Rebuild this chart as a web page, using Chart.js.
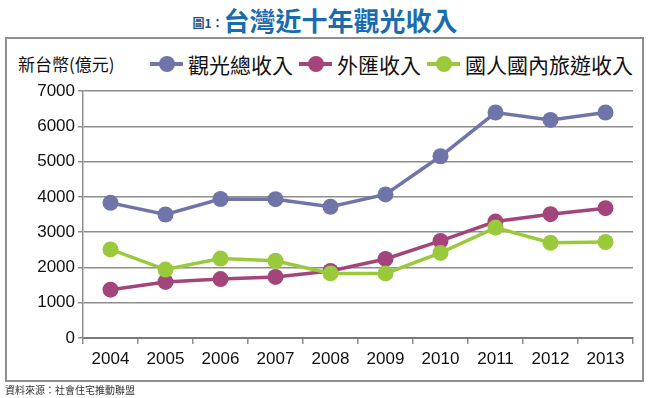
<!DOCTYPE html>
<html>
<head>
<meta charset="utf-8">
<script src="https://cdn.jsdelivr.net/npm/chart.js@4"></script>
<style>
    body { margin: 0; background: #fff; font-family: "Liberation Sans", Arial, sans-serif; }
    #wrap { position: relative; width: 650px; height: 398px; overflow: hidden; }
    #box { position: absolute; left: 5px; top: 37px; width: 635px; height: 341px; border: 2px solid #8e8e8e; }
    #title { position: absolute; left: 0; top: 4px; width: 650px; text-align: center; color: #1a6cb0;
        font-family: "Noto Sans CJK TC", sans-serif; font-weight: bold; font-size: 26px; line-height: 32px; }
    #title small { font-size: 12px; color: #1d4f86; vertical-align: 3px; }
    #unit { position: absolute; left: 18px; top: 51px; font-family: "Noto Sans CJK TC", sans-serif;
        font-size: 17px; color: #111; line-height: 26px; }
    #legend { position: absolute; left: 150px; top: 49px; font-family: "Noto Sans CJK TC", sans-serif;
        font-size: 21px; color: #111; line-height: 30px; white-space: nowrap; }
    .item { display: inline-block; margin-right: 6px; }
    .mark { display: inline-block; position: relative; width: 33px; height: 30px; vertical-align: top; margin-right: 5px; }
    .mark i { position: absolute; left: 0; top: 13px; width: 33px; height: 4px; }
    .mark b { position: absolute; left: 9px; top: 7px; width: 16px; height: 16px; border-radius: 50%; }
    #source { position: absolute; left: 5px; top: 383px; font-family: "Noto Sans CJK TC", sans-serif;
        font-size: 10px; color: #333; line-height: 14px; }
    canvas { position: absolute; left: 0; top: 0; }
</style>
</head>
<body>
<div id="wrap">
    <div id="box"></div>
    <div id="title"><small>圖1：</small>台灣近十年觀光收入</div>
    <div id="unit">新台幣(億元)</div>
    <div id="legend"></div>
    <canvas id="chart" width="650" height="398"></canvas>
    <div id="source">資料來源：社會住宅推動聯盟</div>
</div>
<script>
const years = ["2004", "2005", "2006", "2007", "2008", "2009", "2010", "2011", "2012", "2013"];
const seriesNames = ["觀光總收入", "外匯收入", "國人國內旅遊收入"];
const totalIncome = [3830, 3500, 3940, 3935, 3720, 4070, 5150, 6390, 6180, 6390];
const foreignIncome = [1370, 1590, 1670, 1730, 1900, 2240, 2750, 3300, 3510, 3680];
const domesticIncome = [2510, 1940, 2250, 2190, 1830, 1830, 2410, 3130, 2700, 2720];
const yTicks = [0, 1000, 2000, 3000, 4000, 5000, 6000, 7000];

const colors = ["#6f75a9", "#a3457a", "#9aca3c"];
const values = [totalIncome, foreignIncome, domesticIncome];

// legend in html so the marker can be line + dot
const legend = document.getElementById("legend");
for (let i = 0; i < seriesNames.length; i++) {
    const item = document.createElement("span");
    item.className = "item";
    item.innerHTML = '<span class="mark"><i style="background:' + colors[i] + '"></i><b style="background:' + colors[i] + '"></b></span>' + seriesNames[i];
    legend.appendChild(item);
}

const datasets = [];
const drawOrder = [0, 2, 1];
for (let i = 0; i < seriesNames.length; i++) {
    datasets.push({
        label: seriesNames[i],
        data: values[i],
        borderColor: colors[i],
        backgroundColor: colors[i],
        borderWidth: 3.5,
        pointRadius: 8,
        pointBorderWidth: 0,
        tension: 0,
        order: drawOrder[i]
    });
}

new Chart(document.getElementById("chart"), {
    type: "line",
    data: { labels: years, datasets: datasets },
    options: {
        responsive: false,
        animation: false,
        layout: { padding: { left: 0, right: 17, top: 91, bottom: 0 } },
        plugins: { legend: { display: false }, tooltip: { enabled: false } },
        scales: {
            x: {
                offset: true,
                grid: { offset: true, drawOnChartArea: false, drawTicks: true, tickLength: 6, color: "#8e8e8e", lineWidth: 1.5 },
                border: { color: "#7a7a7a", width: 2 },
                ticks: { color: "#111", font: { family: "Liberation Sans", size: 17 }, padding: 5, maxRotation: 0 },
                afterFit: function(s) { s.height = 60; }
            },
            y: {
                min: 0,
                max: 7000,
                afterBuildTicks: function(s) { s.ticks = yTicks.map(function(v) { return { value: v }; }); },
                grid: { color: "#8e8e8e", lineWidth: 1.5, tickLength: 5 },
                border: { color: "#8e8e8e", width: 1.5 },
                ticks: {
                    color: "#111",
                    font: { family: "Liberation Sans", size: 17 },
                    padding: 3,
                    callback: function(v) { return String(v); }
                },
                afterFit: function(s) { s.width = 83; }
            }
        }
    }
});
</script>
</body>
</html>
